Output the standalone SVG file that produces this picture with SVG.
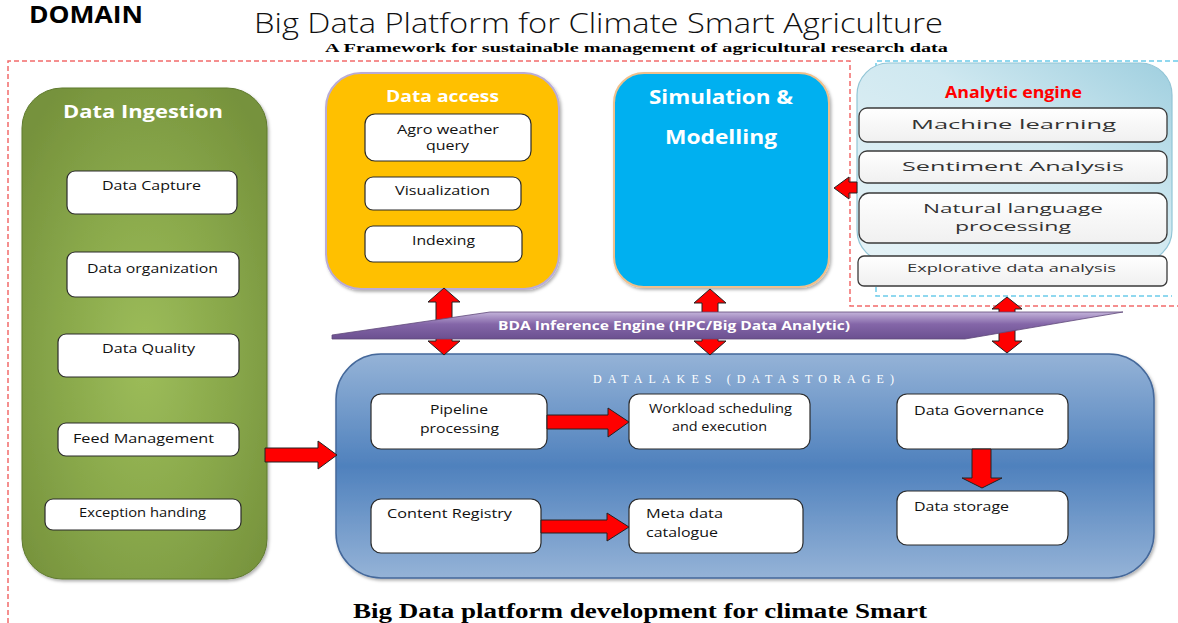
<svg xmlns="http://www.w3.org/2000/svg" width="1178" height="623" viewBox="0 0 1178 623">
<defs>
<radialGradient id="gIng" cx="50%" cy="55%" r="65%" fx="50%" fy="55%">
<stop offset="0" stop-color="#9dbd5a"/><stop offset="0.55" stop-color="#88a74a"/><stop offset="1" stop-color="#76923c"/>
</radialGradient>
<linearGradient id="gLake" x1="0" y1="0" x2="0" y2="1">
<stop offset="0" stop-color="#95b3d7"/><stop offset="0.5" stop-color="#4f81bd"/><stop offset="1" stop-color="#95b3d7"/>
</linearGradient>
<linearGradient id="gBan" x1="0" y1="0" x2="0" y2="1">
<stop offset="0" stop-color="#c3b3da"/><stop offset="0.45" stop-color="#8466a8"/><stop offset="1" stop-color="#6b5090"/>
</linearGradient>
<linearGradient id="gAna" x1="0" y1="1" x2="1" y2="0">
<stop offset="0" stop-color="#e6f3f7"/><stop offset="0.6" stop-color="#cfe8f0"/><stop offset="1" stop-color="#9fcfdf"/>
</linearGradient>
<linearGradient id="gSub" x1="0" y1="0" x2="0" y2="1">
<stop offset="0" stop-color="#ffffff"/><stop offset="1" stop-color="#f0f0f0"/>
</linearGradient>
<filter id="sh" x="-10%" y="-10%" width="120%" height="120%">
<feDropShadow dx="1.5" dy="2" stdDeviation="1.5" flood-color="#000" flood-opacity="0.3"/>
</filter>
</defs>
<style>
.sans{font-family:"Open Sans","Liberation Sans",sans-serif}
.serif{font-family:"Liberation Serif","Times New Roman",serif}
.box{fill:#fff;stroke:#2b2b2b;stroke-width:1.2}
.abox{fill:url(#gSub);stroke:#3a3a3a;stroke-width:1.3}
.t13{font-size:13px;fill:#111}
.at{font-size:13px;fill:#333}
.wt{fill:#fff;font-weight:bold}
.arrow{fill:#ff0000;stroke:#222;stroke-width:1}
.dash{fill:none;stroke-width:1.5}
</style>

<g id="titles">
<text class="sans" x="29" y="23" font-size="23" font-weight="bold" fill="#000" textLength="114" lengthAdjust="spacingAndGlyphs">DOMAIN</text>
<text class="sans" x="254" y="33" font-size="28" font-weight="300" fill="#111" textLength="689" lengthAdjust="spacingAndGlyphs">Big Data Platform for Climate Smart Agriculture</text>
<text class="serif" x="325" y="52" font-size="12.5" font-weight="bold" fill="#000" textLength="623" lengthAdjust="spacingAndGlyphs">A Framework for sustainable management of agricultural research data</text>
<text class="serif" x="353" y="618" font-size="20" font-weight="bold" fill="#000" textLength="574" lengthAdjust="spacingAndGlyphs">Big Data platform development for climate Smart</text>
</g>

<g id="boundaries">
<path class="dash" d="M8,623 V61 H850 V306 H1178" stroke="#f26b6b" stroke-dasharray="5,3"/>
<path class="dash" d="M1178,61 H876 V296 H1172" stroke="#6ccbea" stroke-dasharray="5,3"/>
</g>

<g id="data-ingestion">
<rect x="22" y="88" width="245" height="491" rx="40" fill="url(#gIng)" stroke="#5f7a2e" stroke-width="1" filter="url(#sh)"/>
<text class="sans wt" x="63" y="118" font-size="17" textLength="160" lengthAdjust="spacingAndGlyphs">Data Ingestion</text>
<g id="data-capture"><rect class="box" x="67" y="171" width="170" height="43" rx="8"/>
<text class="sans t13" x="102" y="190" textLength="99" lengthAdjust="spacingAndGlyphs">Data Capture</text></g>
<g id="data-organization"><rect class="box" x="67" y="252" width="172" height="45" rx="8"/>
<text class="sans t13" x="87" y="273" textLength="131" lengthAdjust="spacingAndGlyphs">Data organization</text></g>
<g id="data-quality"><rect class="box" x="58" y="334" width="181" height="43" rx="8"/>
<text class="sans t13" x="102" y="353" textLength="93" lengthAdjust="spacingAndGlyphs">Data Quality</text></g>
<g id="feed-management"><rect class="box" x="58" y="423" width="181" height="33" rx="8"/>
<text class="sans t13" x="73" y="443" textLength="141" lengthAdjust="spacingAndGlyphs">Feed Management</text></g>
<g id="exception-handing"><rect class="box" x="45" y="499" width="196" height="31" rx="8"/>
<text class="sans t13" x="79" y="517" textLength="127" lengthAdjust="spacingAndGlyphs">Exception handing</text></g>
</g>

<g id="data-access">
<rect x="326" y="73" width="233" height="216" rx="35" fill="#ffc000" stroke="#b9acd6" stroke-width="2" filter="url(#sh)"/>
<text class="sans wt" x="386" y="102" font-size="16" textLength="113" lengthAdjust="spacingAndGlyphs">Data access</text>
<g id="agro-weather-query"><rect class="box" x="365" y="114" width="166" height="47" rx="10"/>
<text class="sans t13" x="397" y="134" textLength="102" lengthAdjust="spacingAndGlyphs">Agro weather</text>
<text class="sans t13" x="426" y="150" textLength="43" lengthAdjust="spacingAndGlyphs">query</text></g>
<g id="visualization"><rect class="box" x="365" y="177" width="156" height="33" rx="8"/>
<text class="sans t13" x="395" y="195" textLength="95" lengthAdjust="spacingAndGlyphs">Visualization</text></g>
<g id="indexing"><rect class="box" x="365" y="226" width="157" height="36" rx="8"/>
<text class="sans t13" x="412" y="245" textLength="63" lengthAdjust="spacingAndGlyphs">Indexing</text></g>
</g>

<g id="simulation-modelling">
<rect x="614" y="73" width="215" height="214" rx="30" fill="#00b0f0" stroke="#f0c08c" stroke-width="2" filter="url(#sh)"/>
<text class="sans wt" x="649" y="104" font-size="19" textLength="144" lengthAdjust="spacingAndGlyphs">Simulation &amp;</text>
<text class="sans wt" x="665" y="144" font-size="19" textLength="112" lengthAdjust="spacingAndGlyphs">Modelling</text>
</g>

<g id="analytic-engine">
<rect x="857" y="63" width="315" height="199" rx="32" fill="url(#gAna)" stroke="#92c5d6" stroke-width="1.2"/>
<text class="sans" x="945" y="98" font-size="16" font-weight="bold" fill="#ff0000" textLength="137" lengthAdjust="spacingAndGlyphs">Analytic engine</text>
<g id="machine-learning"><rect class="abox" x="859" y="108" width="308" height="34" rx="8"/>
<text class="sans at" x="911" y="129" textLength="205" lengthAdjust="spacingAndGlyphs">Machine learning</text></g>
<g id="sentiment-analysis"><rect class="abox" x="859" y="151" width="308" height="32" rx="8"/>
<text class="sans at" x="902" y="171" textLength="222" lengthAdjust="spacingAndGlyphs">Sentiment Analysis</text></g>
<g id="natural-language-processing"><rect class="abox" x="859" y="193" width="308" height="50" rx="10"/>
<text class="sans at" x="923" y="213" textLength="180" lengthAdjust="spacingAndGlyphs">Natural language</text>
<text class="sans at" x="955" y="231" textLength="116" lengthAdjust="spacingAndGlyphs">processing</text></g>
<g id="explorative-data-analysis"><rect class="abox" x="858" y="256" width="309" height="30" rx="6"/>
<text class="sans" x="907" y="272" font-size="11" fill="#333" textLength="209" lengthAdjust="spacingAndGlyphs">Explorative data analysis</text></g>
</g>

<g id="datalakes">
<rect x="336" y="354" width="818" height="224" rx="45" fill="url(#gLake)" stroke="#44689a" stroke-width="1.5" filter="url(#sh)"/>
<text class="serif" x="593" y="383" font-size="12" fill="#fff" textLength="301" lengthAdjust="spacing">DATALAKES (DATASTORAGE)</text>
<g id="pipeline-processing"><rect class="box" x="371" y="394" width="176" height="55" rx="10"/>
<text class="sans t13" x="430" y="414" textLength="58" lengthAdjust="spacingAndGlyphs">Pipeline</text>
<text class="sans t13" x="420" y="433" textLength="79" lengthAdjust="spacingAndGlyphs">processing</text></g>
<g id="workload-scheduling"><rect class="box" x="629" y="394" width="181" height="55" rx="10"/>
<text class="sans t13" x="649" y="413" textLength="143" lengthAdjust="spacingAndGlyphs">Workload scheduling</text>
<text class="sans t13" x="672" y="431" textLength="95" lengthAdjust="spacingAndGlyphs">and execution</text></g>
<g id="content-registry"><rect class="box" x="371" y="499" width="170" height="54" rx="10"/>
<text class="sans t13" x="387" y="518" textLength="125" lengthAdjust="spacingAndGlyphs">Content Registry</text></g>
<g id="meta-data-catalogue"><rect class="box" x="629" y="499" width="174" height="54" rx="10"/>
<text class="sans t13" x="646" y="518" textLength="77" lengthAdjust="spacingAndGlyphs">Meta data</text>
<text class="sans t13" x="646" y="537" textLength="72" lengthAdjust="spacingAndGlyphs">catalogue</text></g>
<g id="data-governance"><rect class="box" x="897" y="394" width="171" height="55" rx="10"/>
<text class="sans t13" x="914" y="415" textLength="130" lengthAdjust="spacingAndGlyphs">Data Governance</text></g>
<g id="data-storage"><rect class="box" x="897" y="491" width="171" height="54" rx="10"/>
<text class="sans t13" x="914" y="511" textLength="95" lengthAdjust="spacingAndGlyphs">Data storage</text></g>
</g>

<g id="connectors">
<path class="arrow" d="M265,448 H318 V441 L337,455 L318,469 V462 H265 Z"/>
<path class="arrow" d="M547,415 H608 V408 L629,422 L608,437 V429 H547 Z"/>
<path class="arrow" d="M541,520 H607 V513 L629,527 L607,541 V533 H541 Z"/>
<path class="arrow" d="M972,449 V478 H962 L982,488 L1002,478 H991 V449 Z"/>
<path class="arrow" d="M857,182 H849 V177 L834,188 L849,199 V193 H857 Z"/>
<path class="arrow" d="M444,288 L460,302 H452 V341 H460 L444,355 L428,341 H436 V302 H428 Z"/>
<path class="arrow" d="M710,289 L726,303 H718 V341 H726 L710,355 L694,341 H702 V303 H694 Z"/>
<path class="arrow" d="M1007,297 L1022,309 H1015 V341 H1022 L1007,353 L992,341 H999 V309 H992 Z"/>
</g>

<g id="bda-inference-engine">
<polygon points="332,335 490,312 1123,312 965,339 332,339" fill="url(#gBan)" stroke="#5f497a" stroke-width="0.8"/>
<text class="sans wt" x="498" y="330" font-size="13" textLength="352" lengthAdjust="spacingAndGlyphs">BDA Inference Engine (HPC/Big Data Analytic)</text>
</g>
</svg>
